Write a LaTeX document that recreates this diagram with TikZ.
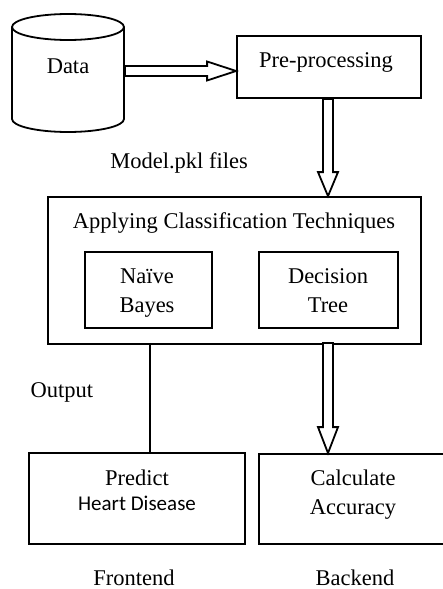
\documentclass[tikz,border=0pt]{standalone}
\usepackage{fontspec}
\setmainfont{Liberation Serif}
\newfontfamily\calibrifont{Carlito}
\usetikzlibrary{calc}
\begin{document}
\begin{tikzpicture}[x=1pt,y=-1pt,
  line width=1.8pt, line join=miter,
  box/.style={draw, rectangle, inner sep=0pt},
  lbl/.style={anchor=base, inner sep=0pt, font=\fontsize{22.5}{28}\selectfont},
  sanslbl/.style={anchor=base, inner sep=0pt, font=\calibrifont\fontsize{21}{26}\selectfont},
  fat/.style={draw, fill=white, line width=1.8pt}]
\useasboundingbox (0,0) rectangle (443,589);
% cylinder (Data)
\node (data) [inner sep=0pt, minimum width=112, minimum height=118] at (68,73) {};
\draw (12,27) -- (12,119) arc[start angle=180, end angle=0, x radius=56, y radius=13] -- (124,27);
\draw (68,27) ellipse [x radius=56, y radius=13];
% boxes
\node (pre) [box, minimum width=184, minimum height=62] at (329,67) {};
\node (app) [box, minimum width=373, minimum height=147] at (234.5,270.5) {};
\node (nb) [box, minimum width=127, minimum height=76] at (148.5,290) {};
\node (dt) [box, minimum width=139, minimum height=76] at (328.5,290) {};
\node (pred) [box, minimum width=216, minimum height=91] at (137,498.5) {};
\node (calcb) [box, minimum width=188, minimum height=90] at (353,499) {};
% labels
\node (tdata) [lbl] at (68,73) {Data};
\node (tpre) [lbl] at (326,67) {Pre-processing};
\node (tmodel) [lbl] at (179,168) {Model.pkl files};
\node (tapp) [lbl] at (234,228) {Applying Classification Techniques};
\node (tnb1) [lbl] at (147,283) {Naïve};
\node (tnb2) [lbl] at (147,312) {Bayes};
\node (tdt1) [lbl] at (328,283) {Decision};
\node (tdt2) [lbl] at (328,312) {Tree};
\node (tout) [lbl] at (62,397) {Output};
\node (tpr1) [lbl] at (137,485) {Predict};
\node (tpr2) [sanslbl] at (137,510) {Heart Disease};
\node (tca1) [lbl] at (353,485) {Calculate};
\node (tca2) [lbl] at (353,514) {Accuracy};
\node (tfront) [lbl] at (134,585) {Frontend};
\node (tback) [lbl] at (355,585) {Backend};
% arrow Data -> Pre-processing
\coordinate (h1e) at ($(pre.west)+(0,4)$);
\coordinate (h1s) at (data.east |- h1e);
\draw[fat] ($(h1s)+(0,-5)$) -- ($(h1e)+(-29,-5)$) -- ($(h1e)+(-29,-9.5)$) -- (h1e)
  -- ($(h1e)+(-29,9.5)$) -- ($(h1e)+(-29,5)$) -- ($(h1s)+(0,5)$) -- cycle;
% arrow Pre-processing -> Applying
\coordinate (v1s) at ($(pre.south)+(-1,0)$);
\coordinate (v1e) at (v1s |- app.north);
\draw[fat] ($(v1s)+(-5,0)$) -- ($(v1e)+(-5,-24)$) -- ($(v1e)+(-10,-24)$) -- (v1e)
  -- ($(v1e)+(10,-24)$) -- ($(v1e)+(5,-24)$) -- ($(v1s)+(5,0)$) -- cycle;
% arrow Applying -> Calculate Accuracy
\coordinate (v2s) at ($(dt.south |- app.south)+(-0.5,-2)$);
\coordinate (v2e) at (v2s |- calcb.north);
\draw[fat] ($(v2s)+(-5,0)$) -- ($(v2e)+(-5,-26)$) -- ($(v2e)+(-10,-26)$) -- (v2e)
  -- ($(v2e)+(10,-26)$) -- ($(v2e)+(5,-26)$) -- ($(v2s)+(5,0)$) -- cycle;
% Output line
\coordinate (outx) at (150,0);
\draw ($(app.south -| outx)+(0,-2)$) -- (pred.north -| outx);
\end{tikzpicture}
\end{document}
